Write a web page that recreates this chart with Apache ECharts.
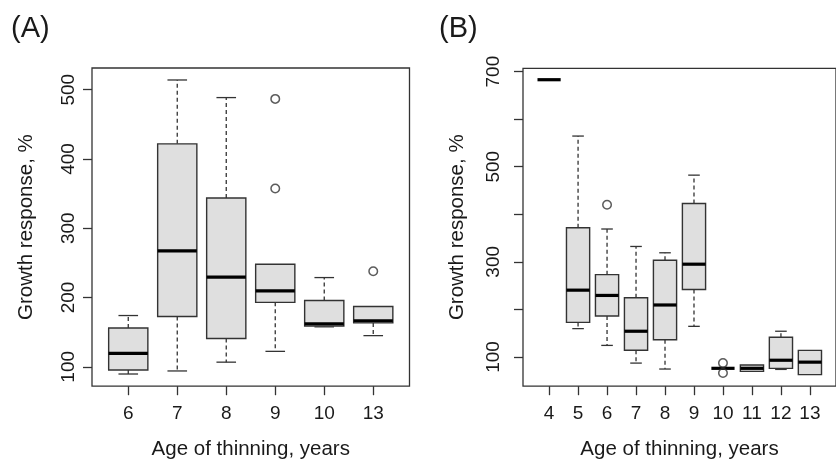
<!DOCTYPE html>
<html><head><meta charset="utf-8">
<script src="https://cdn.jsdelivr.net/npm/echarts@6/dist/echarts.min.js"></script>
<style>html,body{margin:0;padding:0;background:#fff}#c{width:836px;height:465px}</style>
</head><body><div id="c"></div>
<script>
// ---- Panel A data ----
const catsA   = ['6', '7', '8', '9', '10', '13'];
const lowA    = [89.6, 94, 106.7, 122.3, 157.7, 145];
const q1A     = [95.3, 172.5, 140.8, 193, 158.7, 163.4];
const medA    = [119.5, 267.3, 229.4, 209.5, 162, 166.5];
const q3A     = [156, 421.8, 343.6, 248, 195.7, 187];
const highA   = [174, 514, 488.6, 248, 228.8, 187];
const outCatA = ['9', '9', '13'];
const outValA = [486.7, 357.4, 238];
const yTicksA = [100, 200, 300, 400, 500];
const yLabelsA = [100, 200, 300, 400, 500];

// ---- Panel B data ----
const catsB   = ['4', '5', '6', '7', '8', '9', '10', '11', '12', '13'];
const lowB    = [683, 159.5, 124.2, 87, 74.5, 164.3, 76, 69.5, 73.7, 62.7];
const q1B     = [683, 172.6, 186, 114, 136, 241.7, 76, 69.5, 75.8, 62.7];
const medB    = [683, 240.4, 229.3, 154, 209.2, 295, 76, 76, 93, 89];
const q3B     = [683, 371.7, 273, 224.5, 303.3, 422.8, 76, 83, 141.4, 113.8];
const highB   = [683, 564.5, 369, 332.3, 319, 482.3, 76, 83, 154, 113.8];
const outCatB = ['6', '10', '10'];
const outValB = [420, 87, 66];
const yTicksB = [100, 200, 300, 400, 500, 600, 700];
const yLabelsB = [100, 300, 500, 700];

const FONT = 'Liberation Sans, Arial, Helvetica, sans-serif';
const TXT = '#1a1a1a';
const LINE = '#333';

function boxData(cats, lo, q1, md, q3, hi) {
  return cats.map((c, i) => [i + 1, lo[i], q1[i], md[i], q3[i], hi[i]]);
}
function outData(cats, outCat, outVal) {
  return outCat.map((c, i) => [cats.indexOf(c) + 1, outVal[i]]);
}

function renderBox(params, api) {
  const x = api.value(0);
  const lo = api.value(1), q1 = api.value(2), md = api.value(3), q3 = api.value(4), hi = api.value(5);
  const bw = api.size([0.8, 0])[0];
  const cx = api.coord([x, md])[0];
  const y = v => api.coord([x, v])[1];
  const half = bw / 2, cap = bw / 4;
  const ch = [];
  const wStyle = { stroke: LINE, lineWidth: 1.3, lineDash: [4, 3] };
  const cStyle = { stroke: LINE, lineWidth: 1.3 };
  if (hi > q3) {
    ch.push({ type: 'line', shape: { x1: cx, y1: y(q3), x2: cx, y2: y(hi) }, style: wStyle });
    ch.push({ type: 'line', shape: { x1: cx - cap, y1: y(hi), x2: cx + cap, y2: y(hi) }, style: cStyle });
  }
  if (lo < q1) {
    ch.push({ type: 'line', shape: { x1: cx, y1: y(q1), x2: cx, y2: y(lo) }, style: wStyle });
    ch.push({ type: 'line', shape: { x1: cx - cap, y1: y(lo), x2: cx + cap, y2: y(lo) }, style: cStyle });
  }
  if (q3 > q1) {
    ch.push({ type: 'rect', shape: { x: cx - half, y: y(q3), width: bw, height: y(q1) - y(q3) },
      style: { fill: '#dfdfdf', stroke: LINE, lineWidth: 1.4 } });
  }
  ch.push({ type: 'line', shape: { x1: cx - half, y1: y(md), x2: cx + half, y2: y(md) },
    style: { stroke: '#000', lineWidth: 3.2 } });
  return { type: 'group', children: ch };
}

function xAxisFor(gi, cats, min, max) {
  const pos = cats.map((_, i) => i + 1);
  return {
    type: 'value', gridIndex: gi, min: min, max: max,
    axisLine: { show: false }, splitLine: { show: false },
    axisTick: { show: true, length: 9, lineStyle: { color: LINE, width: 1.3 }, customValues: pos },
    axisLabel: { customValues: pos, formatter: v => cats[Math.round(v) - 1], fontSize: 19, color: TXT,
      fontFamily: FONT, margin: 27.6, verticalAlign: 'middle' },
    name: 'Age of thinning, years', nameLocation: 'middle', nameGap: 63.3,
    nameTextStyle: { fontSize: 20.5, color: TXT, fontFamily: FONT, verticalAlign: 'middle' }
  };
}
function yAxisFor(gi, min, max, ticks, labels, lmargin, ngap) {
  return {
    type: 'value', gridIndex: gi, min: min, max: max,
    axisLine: { show: false }, splitLine: { show: false },
    axisTick: { show: true, length: 9, lineStyle: { color: LINE, width: 1.3 }, customValues: ticks },
    axisLabel: { customValues: labels, fontSize: 19, color: TXT, fontFamily: FONT, rotate: 90,
      align: 'center', verticalAlign: 'middle', margin: lmargin },
    name: 'Growth response, %', nameLocation: 'middle', nameGap: ngap, nameRotate: 90,
    nameTextStyle: { fontSize: 20.5, color: TXT, fontFamily: FONT, verticalAlign: 'middle', align: 'center' }
  };
}

const chart = echarts.init(document.getElementById('c'), null, { renderer: 'canvas' });
chart.setOption({
  animation: false,
  backgroundColor: '#fff',
  grid: [
    { left: 92, top: 68, width: 317.5, height: 323, show: true, borderColor: LINE, borderWidth: 1.3, backgroundColor: 'transparent' },
    { left: 523, top: 68.3, width: 318, height: 322.4, show: true, borderColor: LINE, borderWidth: 1.3, backgroundColor: 'transparent' }
  ],
  xAxis: [ xAxisFor(0, catsA, 0.26, 6.74), xAxisFor(1, catsB, 0.1, 10.9) ],
  yAxis: [ yAxisFor(0, 72, 531.3, yTicksA, yLabelsA, 23.7, 65.3), yAxisFor(1, 38.4, 707, yTicksB, yLabelsB, 29.7, 65.5) ],
  graphic: [
    { type: 'text', left: 11, top: 14, style: { text: '(A)', fontSize: 29, fontFamily: FONT, fill: TXT } },
    { type: 'text', left: 439, top: 14, style: { text: '(B)', fontSize: 29, fontFamily: FONT, fill: TXT } }
  ],
  series: [
    { type: 'custom', xAxisIndex: 0, yAxisIndex: 0, renderItem: renderBox,
      data: boxData(catsA, lowA, q1A, medA, q3A, highA), encode: { x: 0, y: [1, 2, 3, 4, 5] } },
    { type: 'scatter', xAxisIndex: 0, yAxisIndex: 0, symbol: 'circle', symbolSize: 8.5,
      itemStyle: { color: 'rgba(0,0,0,0)', borderColor: LINE, borderWidth: 1.5 },
      data: outData(catsA, outCatA, outValA) },
    { type: 'custom', xAxisIndex: 1, yAxisIndex: 1, renderItem: renderBox,
      data: boxData(catsB, lowB, q1B, medB, q3B, highB), encode: { x: 0, y: [1, 2, 3, 4, 5] } },
    { type: 'scatter', xAxisIndex: 1, yAxisIndex: 1, symbol: 'circle', symbolSize: 8.5,
      itemStyle: { color: 'rgba(0,0,0,0)', borderColor: LINE, borderWidth: 1.5 },
      data: outData(catsB, outCatB, outValB) }
  ]
});
</script></body></html>
